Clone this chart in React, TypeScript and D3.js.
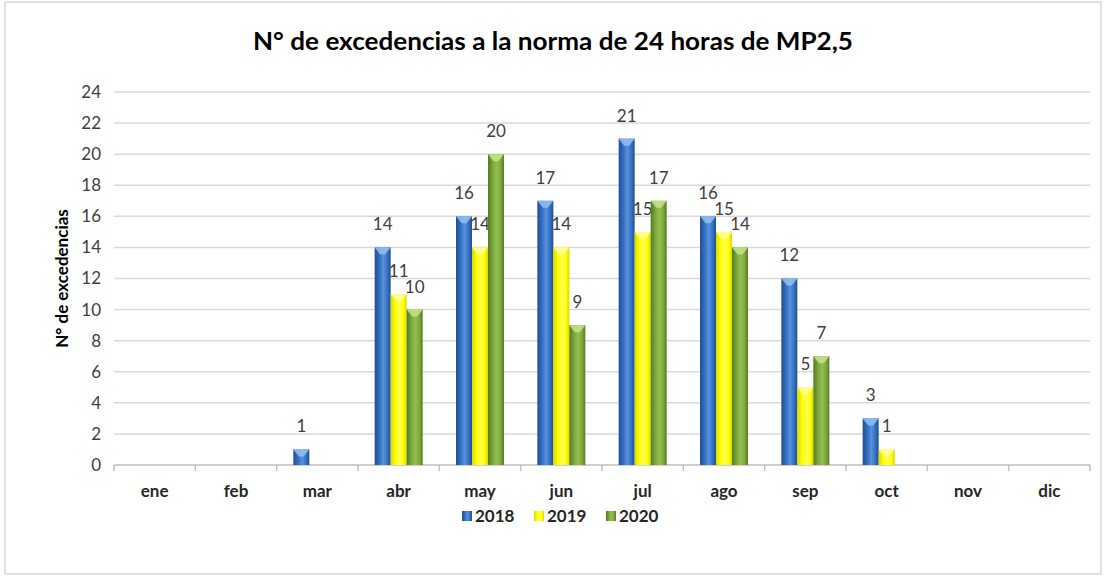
import React from "react";
import * as d3 from "d3";

const months = ["ene", "feb", "mar", "abr", "may", "jun", "jul", "ago", "sep", "oct", "nov", "dic"];
const series = ["2018", "2019", "2020"];
const v2018 = [0, 0, 1, 14, 16, 17, 21, 16, 12, 3, 0, 0];
const v2019 = [0, 0, 0, 11, 14, 14, 15, 15, 5, 1, 0, 0];
const v2020 = [0, 0, 0, 10, 20, 9, 17, 14, 7, 0, 0, 0];
const yTicks = [0, 2, 4, 6, 8, 10, 12, 14, 16, 18, 20, 22, 24];

const values = [v2018, v2019, v2020];
const colors = [
  { base: "#3270c2", dark: "#1f4f91", light: "#5a90d8", tip: "#8fbcf0" },
  { base: "#ffff00", dark: "#d9d900", light: "#ffff55", tip: "#ffff99" },
  { base: "#7ca83c", dark: "#557a22", light: "#94be52", tip: "#c2e08a" },
];

const W = 1106;
const H = 579;
const left = 114;
const right = 1090;
const top = 92;
const bottom = 465;
const font = "Lato, 'Open Sans', sans-serif";

export default function App() {
  const x = d3.scaleBand<string>().domain(months).range([left, right]).paddingInner(0).paddingOuter(0);
  const y = d3.scaleLinear().domain([0, 24]).range([bottom, top]);
  const groupW = 48;
  const xs = d3.scaleBand<string>().domain(series).range([0, groupW]).padding(0);
  const bw = xs.bandwidth();

  return (
    <svg width={W} height={H} style={{ position: "absolute", left: 0, top: 0, background: "#fff" }}>
      <defs>
        {colors.map((c, i) => (
          <linearGradient key={i} id={`g${i}`} x1="0" x2="1" y1="0" y2="0">
            <stop offset="0" stopColor={c.dark} />
            <stop offset="0.3" stopColor={c.base} />
            <stop offset="0.55" stopColor={c.light} />
            <stop offset="0.8" stopColor={c.base} />
            <stop offset="1" stopColor={c.dark} />
          </linearGradient>
        ))}
      </defs>
      <rect x={5} y={2} width={1096} height={572} fill="#fff" stroke="#d9d9d9" strokeWidth={1.5} />
      <text x={553} y={50} textAnchor="middle" fontFamily={font} fontWeight="bold" fontSize={25} fill="#000" textLength={600} lengthAdjust="spacingAndGlyphs">
        N° de excedencias a la norma de 24 horas de MP2,5
      </text>
      {yTicks.map((t) => (
        <g key={t}>
          {t > 0 && <line x1={left} x2={right} y1={y(t)} y2={y(t)} stroke="#d9d9d9" strokeWidth={1.5} />}
          <text x={101} y={y(t)} dy="0.35em" textAnchor="end" fontFamily={font} fontSize={17} fill="#404040">
            {t}
          </text>
        </g>
      ))}
      <line x1={left} x2={right} y1={bottom} y2={bottom} stroke="#bfbfbf" strokeWidth={1.5} />
      {d3.range(months.length + 1).map((i) => {
        const xx = left + i * x.step();
        return <line key={i} x1={xx} x2={xx} y1={bottom} y2={bottom + 6} stroke="#bfbfbf" strokeWidth={1.5} />;
      })}
      {months.map((m) => (
        <text key={m} x={(x(m) as number) + x.bandwidth() / 2} y={497} textAnchor="middle" fontFamily={font} fontWeight="bold" fontSize={17} fill="#262626">
          {m}
        </text>
      ))}
      <text transform={`translate(68,${(top + bottom) / 2}) rotate(-90)`} textAnchor="middle" fontFamily={font} fontWeight="bold" fontSize={17} fill="#000">
        N° de excedencias
      </text>
      {series.map((s, si) =>
        months.map((m, mi) => {
          const v = values[si][mi];
          if (!v) return null;
          const bx = (x(m) as number) + x.bandwidth() / 2 - groupW / 2 + (xs(s) as number);
          const by = y(v);
          const h = y(0) - by;
          const c = colors[si];
          const tipH = Math.min(7, h);
          return (
            <g key={s + m}>
              <rect x={bx} y={by} width={bw} height={h} fill={`url(#g${si})`} />
              <polygon points={`${bx},${by} ${bx + bw},${by} ${bx + bw * 0.65},${by + tipH} ${bx + bw * 0.35},${by + tipH}`} fill={c.tip} opacity={0.9} />
              <text x={bx + bw / 2} y={by - 23} dy="0.35em" textAnchor="middle" fontFamily={font} fontSize={17} fill="#404040">
                {v}
              </text>
            </g>
          );
        })
      )}
      {series.map((s, si) => {
        const lx = 462 + si * 72;
        return (
          <g key={s}>
            <rect x={lx} y={511} width={10} height={10} fill={`url(#g${si})`} />
            <text x={lx + 13} y={516} dy="0.35em" fontFamily={font} fontWeight="bold" fontSize={17} fill="#262626">
              {s}
            </text>
          </g>
        );
      })}
    </svg>
  );
}
